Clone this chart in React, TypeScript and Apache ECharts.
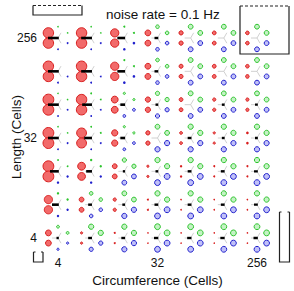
import React, { useEffect, useRef } from "react";
import * as echarts from "echarts";

// Circumference (columns) and length (rows, top to bottom), in cells
const circumferences = [4, 8, 16, 32, 64, 128, 256];
const lengths = [256, 128, 64, 32, 16, 8, 4];
const xTickLabels = [4, 32, 256];
const yTickLabels = [4, 32, 256];

// Marker radii (px) per row (top→bottom) and column (left→right)
const redSize = [
  [5.6, 5.6, 4.5, 3.3, 2.5, 2.3, 2.2],
  [5.6, 5.6, 4.5, 3.3, 2.4, 2.3, 2.2],
  [5.8, 5.6, 3.8, 3.0, 2.3, 2.0, 2.0],
  [5.8, 5.3, 3.5, 2.5, 1.8, 1.5, 1.3],
  [5.8, 4.3, 2.8, 1.5, 1.2, 1.0, 1.0],
  [4.5, 2.8, 2.0, 1.0, 0.8, 0.8, 0.8],
  [3.3, 1.5, 1.0, 0.8, 0.8, 0.8, 0.8],
];
const greenSize = [
  [0.8, 0.8, 1.0, 2.2, 2.8, 2.8, 2.8],
  [0.8, 0.8, 1.0, 2.2, 2.8, 2.8, 2.8],
  [0.8, 0.9, 1.5, 2.5, 2.8, 2.8, 2.8],
  [0.8, 0.9, 1.5, 2.8, 3.0, 3.0, 3.0],
  [0.9, 1.2, 2.5, 3.0, 3.0, 3.0, 3.0],
  [1.2, 2.2, 2.8, 3.0, 3.0, 3.0, 3.0],
  [1.8, 3.0, 3.0, 3.3, 3.3, 3.3, 3.3],
];
const blueSize = [
  [0.9, 0.9, 1.3, 2.2, 2.8, 2.8, 2.8],
  [0.9, 0.9, 1.3, 2.2, 2.8, 2.8, 2.8],
  [0.9, 0.9, 1.8, 2.5, 2.8, 2.8, 2.8],
  [0.9, 0.9, 1.8, 3.0, 3.0, 3.0, 3.0],
  [1.2, 1.2, 2.8, 3.3, 3.3, 3.3, 3.3],
  [1.2, 2.2, 3.0, 3.3, 3.3, 3.3, 3.3],
  [1.5, 2.5, 3.0, 3.3, 3.3, 3.3, 3.3],
];
// Black bar length (px) toward the red pair
const barLength = [
  [10, 10, 7, 3, 0, 0, 0],
  [10, 10, 7, 3, 0, 0, 0],
  [10, 9, 4, 2, 0, 2, 2],
  [10, 7, 4, 0, 3, 2, 2],
  [8, 5, 1.5, 2, 3, 3, 3],
  [6, 3, 2, 3, 3, 3, 3],
  [1.5, 3, 3, 3.5, 3.5, 3.5, 3.5],
];

const FONT = "Liberation Sans, Arial, sans-serif";

export default function App() {
  const ref = useRef<HTMLDivElement>(null);
  useEffect(() => {
    if (!ref.current) return;
    const chart = echarts.init(ref.current, null, { renderer: "svg" });
    const data: number[][] = [];
    lengths.forEach((L, r) => {
      circumferences.forEach((C, c) => {
        data.push([
          Math.log2(C),
          Math.log2(L),
          redSize[r][c],
          greenSize[r][c],
          blueSize[r][c],
          barLength[r][c],
        ]);
      });
    });

    const TOP = 11.3;
    const sx = 9.6;
    const sy = 5.1;

    const renderItem = (params: any, api: any) => {
      const p = api.coord([api.value(0), api.value(1)]);
      const cx = p[0];
      const cy = p[1];
      const rr = api.value(2);
      const rg = api.value(3);
      const rb = api.value(4);
      const bl = api.value(5);
      const children: any[] = [];
      const g = 6;
      [
        [-1, 0],
        [0.5, -0.866],
        [0.5, 0.866],
      ].forEach(([ux, uy]) => {
        children.push({
          type: "line",
          shape: { x1: cx, y1: cy, x2: cx + ux * g, y2: cy + uy * g },
          style: { stroke: "#c4c4c4", lineWidth: 0.8 },
        });
      });
      const dot = (dx: number, dy: number, r: number, stroke: string, fill: string) => {
        if (r < 1.4) {
          return {
            type: "circle",
            shape: { cx: cx + dx, cy: cy + dy, r },
            style: { fill: stroke },
          };
        }
        return {
          type: "circle",
          shape: { cx: cx + dx, cy: cy + dy, r: r - 0.4 },
          style: { fill, stroke, lineWidth: 1 },
        };
      };
      children.push(dot(-sx, -sy, rr, "#d81e1e", "#f26a6a"));
      children.push(dot(-sx, sy, rr, "#d81e1e", "#f26a6a"));
      children.push(dot(0, -TOP, rg, "#2cc42c", "#c4f2c4"));
      children.push(dot(sx, -sy, rg, "#2cc42c", "#c4f2c4"));
      children.push(dot(sx, sy, rb, "#2020cc", "#c0c0f8"));
      children.push(dot(0, TOP, rb, "#2020cc", "#c0c0f8"));
      if (bl > 0) {
        const th = bl < 4 ? 2.4 : 2.6;
        children.push({
          type: "rect",
          shape: { x: cx - bl, y: cy - th / 2, width: bl + 0.8, height: th },
          style: { fill: "#000" },
        });
      }
      return { type: "group", children };
    };

    const line = (pts: number[][], dash?: number[]) => ({
      type: "polyline",
      shape: { points: pts },
      style: { stroke: "#222", lineWidth: 1.2, fill: null, lineDash: dash },
      silent: true,
    });

    chart.setOption({
      animation: false,
      backgroundColor: "#fff",
      title: {
        text: "noise rate = 0.1 Hz",
        left: 101,
        top: 2,
        textStyle: { fontFamily: FONT, fontSize: 13.5, fontWeight: "normal", color: "#111" },
      },
      grid: {
        left: 58,
        top: 38,
        width: 199,
        height: 200,
        containLabel: false,
        outerBoundsMode: "none",
      },
      xAxis: {
        type: "value",
        min: 2,
        max: 8,
        interval: 1,
        name: "Circumference (Cells)",
        nameLocation: "middle",
        nameGap: 33,
        nameTextStyle: { fontFamily: FONT, fontSize: 13.5, color: "#111" },
        axisLine: { show: false },
        axisTick: { show: false },
        splitLine: { show: false },
        axisLabel: {
          margin: 19,
          fontFamily: FONT,
          fontSize: 12,
          color: "#111",
          formatter: (v: number) => {
            const n = Math.round(Math.pow(2, v));
            return xTickLabels.includes(n) ? String(n) : "";
          },
        },
      },
      yAxis: {
        type: "value",
        min: 2,
        max: 8,
        interval: 1,
        axisLine: { show: false },
        axisTick: { show: false },
        splitLine: { show: false },
        axisLabel: {
          margin: 21,
          fontFamily: FONT,
          fontSize: 12,
          color: "#111",
          formatter: (v: number) => {
            const n = Math.round(Math.pow(2, v));
            return yTickLabels.includes(n) ? String(n) : "";
          },
        },
      },
      graphic: [
        {
          type: "text",
          x: 16,
          y: 137,
          rotation: Math.PI / 2,
          silent: true,
          style: {
            text: "Length (Cells)",
            fontFamily: FONT,
            fontSize: 13.5,
            fill: "#111",
            align: "center",
            verticalAlign: "middle",
          },
        },
        line([[33, 5.5], [82, 5.5]], [3, 2]),
        line([[33, 5.5], [33, 15], [82, 15], [82, 5.5]]),
        line([[240, 6], [289, 6]], [3, 2]),
        line([[240, 6], [240, 54], [289, 54], [289, 6]]),
        line([[279.5, 212], [289.5, 212]], [2, 6]),
        line([[279.5, 212], [279.5, 262], [289.5, 262], [289.5, 212]]),
        line([[33.5, 252], [43, 252]], [2, 5.5]),
        line([[33.5, 252], [33.5, 262], [43, 262], [43, 252]]),
      ],
      series: [
        {
          type: "custom",
          renderItem,
          data,
          clip: false,
          silent: true,
        },
      ],
    });
    return () => chart.dispose();
  }, []);
  return (
    <div
      ref={ref}
      style={{ position: "absolute", left: 0, top: 0, width: 294, height: 291 }}
    />
  );
}
